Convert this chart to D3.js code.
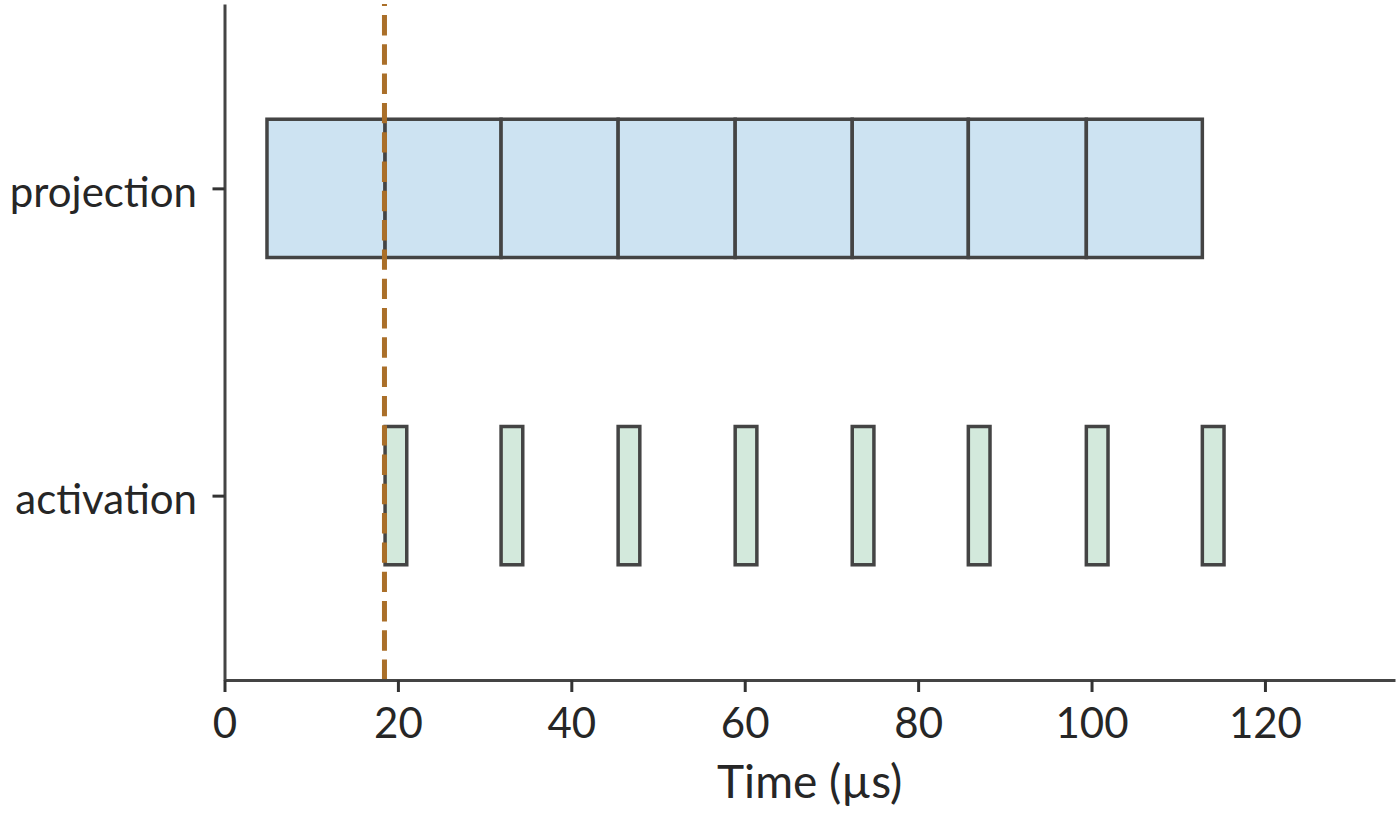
<!DOCTYPE html>
<html>
<head>
<meta charset="utf-8">
<script src="https://cdn.jsdelivr.net/npm/d3@7"></script>
<style>
  body { margin: 0; background: #fff; }
  svg { display: block; }
  .axis text { font-family: Lato, "Noto Sans", sans-serif; font-size: 42px; fill: #262626; }
  .axis path, .axis line { stroke: #444; stroke-width: 3; }
  .axisTitle { font-family: Lato, "Noto Sans", sans-serif; font-size: 46px; fill: #262626; }
</style>
</head>
<body>
<svg width="1400" height="814"></svg>
<script>
// rows of the timeline (bottom to top)
var rows = ["activation", "projection"];

// projection chunks: start and end (µs)
var projStart = [4.9, 18.52, 31.9, 45.4, 58.9, 72.4, 85.79, 99.4];
var projEnd   = [18.52, 31.9, 45.4, 58.9, 72.4, 85.79, 99.4, 112.78];

// activation chunks: start and duration (µs)
var actStart = [18.52, 31.9, 45.4, 58.9, 72.4, 85.79, 99.4, 112.78];
var actDur   = [2.5, 2.5, 2.5, 2.5, 2.5, 2.5, 2.5, 2.5];

var markerTime = 18.45;   // dashed line
var xTicks = [0, 20, 40, 60, 80, 100, 120];

var svg = d3.select("svg"),
    margin = {top: 4, right: 5, bottom: 134, left: 224.5},
    width = +svg.attr("width") - margin.left - margin.right,
    height = +svg.attr("height") - margin.top - margin.bottom;

var g = svg.append("g")
    .attr("transform", "translate(" + margin.left + "," + margin.top + ")");

var x = d3.scaleLinear().domain([0, 135]).range([0, width]);
var y = d3.scaleLinear().domain([-0.6, 1.6]).range([height, 0]);
var barH = 0.45;

function rowTop(i) { return y(i + barH / 2); }
function rowH() { return y(0) - y(barH); }

// projection blocks
g.append("g").selectAll("rect")
    .data(d3.range(projStart.length))
    .enter().append("rect")
    .attr("x", function (i) { return x(projStart[i]); })
    .attr("width", function (i) { return x(projEnd[i]) - x(projStart[i]); })
    .attr("y", rowTop(1))
    .attr("height", rowH())
    .style("fill", "#cde3f2")
    .style("stroke", "#444")
    .style("stroke-width", 3.5);

// activation blocks
g.append("g").selectAll("rect")
    .data(d3.range(actStart.length))
    .enter().append("rect")
    .attr("x", function (i) { return x(actStart[i]); })
    .attr("width", function (i) { return x(actStart[i] + actDur[i]) - x(actStart[i]); })
    .attr("y", rowTop(0))
    .attr("height", rowH())
    .style("fill", "#d3e9dc")
    .style("stroke", "#444")
    .style("stroke-width", 3.5);

// dashed marker, drawn from the bottom up like an axvline
g.append("line")
    .attr("x1", x(markerTime)).attr("x2", x(markerTime))
    .attr("y1", height).attr("y2", 0)
    .style("stroke", "#aa6f29")
    .style("stroke-width", 5)
    .style("stroke-dasharray", "20.4,8.9");

// x axis
var xAxis = g.append("g")
    .attr("class", "axis")
    .attr("transform", "translate(0," + height + ")")
    .call(d3.axisBottom(x).tickValues(xTicks).tickSize(12).tickSizeOuter(0).tickPadding(16));
xAxis.selectAll(".tick line").style("stroke", "#333");

// y axis
var yAxis = g.append("g")
    .attr("class", "axis")
    .call(d3.axisLeft(y).tickValues([0, 1]).tickFormat(function (d) { return rows[d]; })
        .tickSize(12).tickSizeOuter(0).tickPadding(15.5));
yAxis.selectAll(".tick text").attr("dy", "0.42em");
yAxis.selectAll(".tick line").style("stroke", "#333");

g.append("text")
    .attr("class", "axisTitle")
    .attr("x", width / 2)
    .attr("y", height + 118)
    .style("text-anchor", "middle")
    .text("Time (µs)");
</script>
</body>
</html>
